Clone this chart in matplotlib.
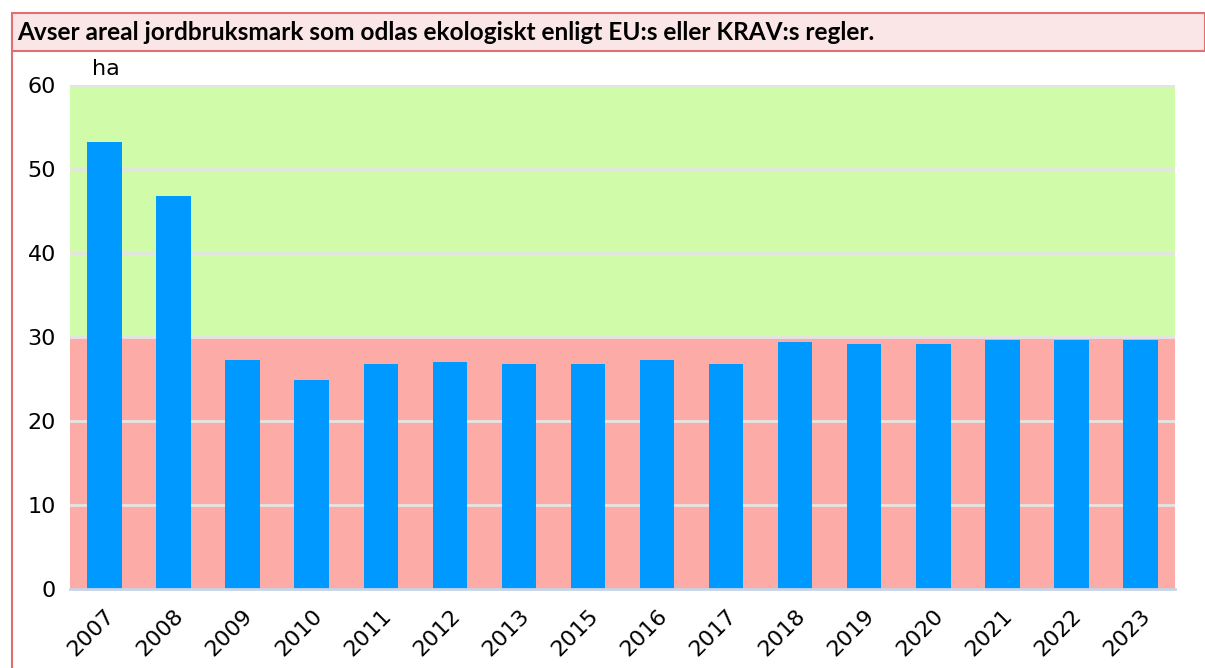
import matplotlib
matplotlib.use('Agg')
import matplotlib.pyplot as plt
from matplotlib.patches import Rectangle
from matplotlib.lines import Line2D

years = ['2007', '2008', '2009', '2010', '2011', '2012', '2013', '2015',
         '2016', '2017', '2018', '2019', '2020', '2021', '2022', '2023']
areas = [53.2, 46.8, 27.3, 24.9, 26.8, 27.0, 26.8, 26.8,
         27.3, 26.8, 29.4, 29.2, 29.2, 29.6, 29.6, 29.6]
yticks = [0, 10, 20, 30, 40, 50, 60]

BAR = '#0099ff'
GREEN_BG = '#d0fba8'
RED_BG = '#fdaba7'
BORDER = '#e07070'
TITLE_BG = '#fae6e6'

W, H = 1205, 668
fig = plt.figure(figsize=(W / 100, H / 100), dpi=100)
fig.patch.set_facecolor('white')

# frame: title box + left border
fig.add_artist(Rectangle((12 / W, 1 - 51 / H), (W - 12) / W, 38 / H,
                         transform=fig.transFigure, facecolor=TITLE_BG,
                         edgecolor=BORDER, linewidth=1.5))
fig.add_artist(Line2D([12 / W, 12 / W], [0, 1 - 51 / H], transform=fig.transFigure,
                      color=BORDER, linewidth=1.5))
fig.text(17 / W, 1 - 32 / H, 'Avser areal jordbruksmark som odlas ekologiskt enligt EU:s eller KRAV:s regler.',
         fontsize=17.6, fontweight='bold', family='Lato', va='center', ha='left')

ax = fig.add_axes([70 / W, 1 - 589 / H, (1175 - 70) / W, (589 - 85) / H])
x = range(len(years))
ax.set_xlim(-0.5, len(years) - 0.5)
ax.set_ylim(0, 60)
ax.axhspan(30, 60, color=GREEN_BG, zorder=0)
ax.axhspan(0, 30, color=RED_BG, zorder=0)
for t in yticks[1:]:
    ax.axhline(t, color='#e4e4e4', linewidth=2, zorder=1)

ax.bar(x, areas, width=0.5, color=BAR, zorder=2)

for s in ['top', 'right', 'left']:
    ax.spines[s].set_visible(False)
ax.spines['bottom'].set_color('#c8d4e6')
ax.spines['bottom'].set_linewidth(2)

ax.set_yticks(yticks)
ax.set_yticklabels([str(t) for t in yticks], fontsize=16, family='DejaVu Sans')
ax.tick_params(axis='y', length=0, pad=10)
ax.set_xticks(list(x))
ax.set_xticklabels(years, rotation=45, ha='right', rotation_mode='anchor',
                   fontsize=16, family='DejaVu Sans')
ax.tick_params(axis='x', length=0, pad=12)
ax.text(-0.18, 60.7, 'ha', fontsize=16, family='DejaVu Sans', va='bottom', ha='left')

fig.savefig('out.png', dpi=100, facecolor='white')
